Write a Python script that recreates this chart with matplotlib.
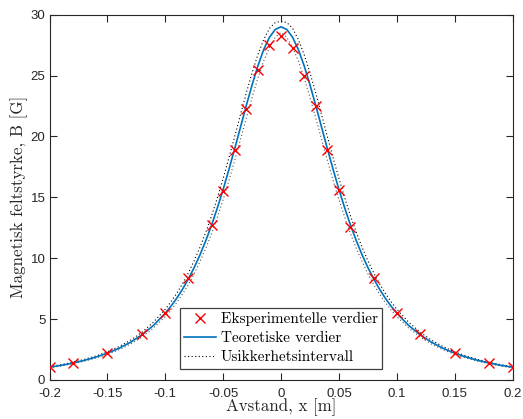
import matplotlib
matplotlib.use("Agg")
import matplotlib.pyplot as plt
import numpy as np

# measured points
x_meas = [-0.2, -0.18, -0.15, -0.12, -0.1, -0.08, -0.06, -0.05, -0.04, -0.03, -0.02, -0.01, 0,
          0.01, 0.02, 0.03, 0.04, 0.05, 0.06, 0.08, 0.1, 0.12, 0.15, 0.18, 0.2]
b_meas = [1.04, 1.42, 2.19, 3.78, 5.53, 8.35, 12.70, 15.55, 18.92, 22.28, 25.43, 27.54, 28.25,
          27.29, 24.94, 22.50, 18.92, 15.60, 12.59, 8.35, 5.53, 3.78, 2.24, 1.42, 1.04]

# curves, read on the positive half (the curves are symmetric about x = 0)
x_half = [0, 0.005, 0.01, 0.015, 0.02, 0.025, 0.03, 0.035, 0.04, 0.045, 0.05, 0.055, 0.06,
          0.065, 0.07, 0.075, 0.08, 0.085, 0.09, 0.095, 0.1, 0.11, 0.12, 0.13, 0.14, 0.15,
          0.16, 0.17, 0.18, 0.19, 0.2]
b_teori = [29.00, 28.78, 28.14, 27.12, 25.79, 24.23, 22.54, 20.77, 19.00, 17.29, 15.65, 14.13,
           12.72, 11.44, 10.28, 9.24, 8.31, 7.47, 6.73, 6.07, 5.49, 4.50, 3.72, 3.10, 2.60,
           2.20, 1.88, 1.61, 1.39, 1.20, 1.05]
b_ovre = [29.44, 29.35, 28.87, 27.94, 26.71, 25.23, 23.56, 21.80, 20.00, 18.24, 16.55, 14.96,
          13.48, 12.13, 10.90, 9.80, 8.81, 7.92, 7.13, 6.43, 5.81, 4.77, 3.93, 3.27, 2.74,
          2.31, 1.97, 1.69, 1.45, 1.26, 1.10]
b_nedre = [28.53, 28.14, 27.31, 26.19, 24.79, 23.20, 21.50, 19.76, 18.04, 16.38, 14.82, 13.36,
           12.02, 10.81, 9.72, 8.73, 7.85, 7.07, 6.37, 5.75, 5.21, 4.28, 3.54, 2.95, 2.48,
           2.10, 1.80, 1.54, 1.33, 1.15, 1.00]


def mirror(xs, ys):
    xs = np.asarray(xs)
    ys = np.asarray(ys)
    return np.concatenate((-xs[:0:-1], xs)), np.concatenate((ys[:0:-1], ys))


x_c, y_teori = mirror(x_half, b_teori)
_, y_ovre = mirror(x_half, b_ovre)
_, y_nedre = mirror(x_half, b_nedre)

plt.rcParams['axes.unicode_minus'] = False
grey = '#262626'

fig = plt.figure(figsize=(5.23, 4.19), dpi=100)
ax = fig.add_axes([0.0947, 0.0931, 0.8853, 0.872])

ax.plot(x_meas, b_meas, 'x', color='r', ms=6.5, mew=1.0, label='Eksperimentelle verdier', zorder=4)
ax.plot(x_c, y_teori, '-', color='#0072BD', lw=1.2, label='Teoretiske verdier', zorder=3)
ax.plot(x_c, y_ovre, color='k', lw=0.8, ls=(0, (1, 2.2)), label='Usikkerhetsintervall', zorder=2)
ax.plot(x_c, y_nedre, color='#555555', lw=0.8, ls=(0, (1, 2.2)), zorder=2)

ax.set_xlim(-0.2, 0.2)
ax.set_ylim(0, 30)
ax.set_xticks(np.arange(-0.2, 0.201, 0.05))
ax.set_xticklabels(['-0.2', '-0.15', '-0.1', '-0.05', '0', '0.05', '0.1', '0.15', '0.2'])
ax.set_yticks(range(0, 31, 5))

ax.tick_params(direction='in', top=True, right=True, length=5, width=0.8,
               colors=grey, labelsize=9.5)
ax.tick_params(axis='x', pad=5.5)
ax.tick_params(axis='y', pad=3)
for lab in ax.get_xticklabels() + ax.get_yticklabels():
    lab.set_fontfamily('Liberation Sans')
for sp in ax.spines.values():
    sp.set_color(grey)
    sp.set_linewidth(0.8)

ax.set_xlabel('Avstand, x [m]', fontfamily='cmr10', fontsize=12.2, color=grey, labelpad=-1)
ax.set_ylabel('Magnetisk feltstyrke, B [G]', fontfamily='cmr10', fontsize=12.2, color=grey, labelpad=2)

leg = ax.legend(loc='lower center', bbox_to_anchor=(0.5, 0.03), prop={'family': 'cmr10', 'size': 11},
                fancybox=False, framealpha=1, edgecolor='#404040', borderpad=0.3,
                handlelength=2.1, handletextpad=0.3, labelspacing=0.35, borderaxespad=0)
leg.get_frame().set_linewidth(0.9)

fig.savefig('out.png', dpi=100)
